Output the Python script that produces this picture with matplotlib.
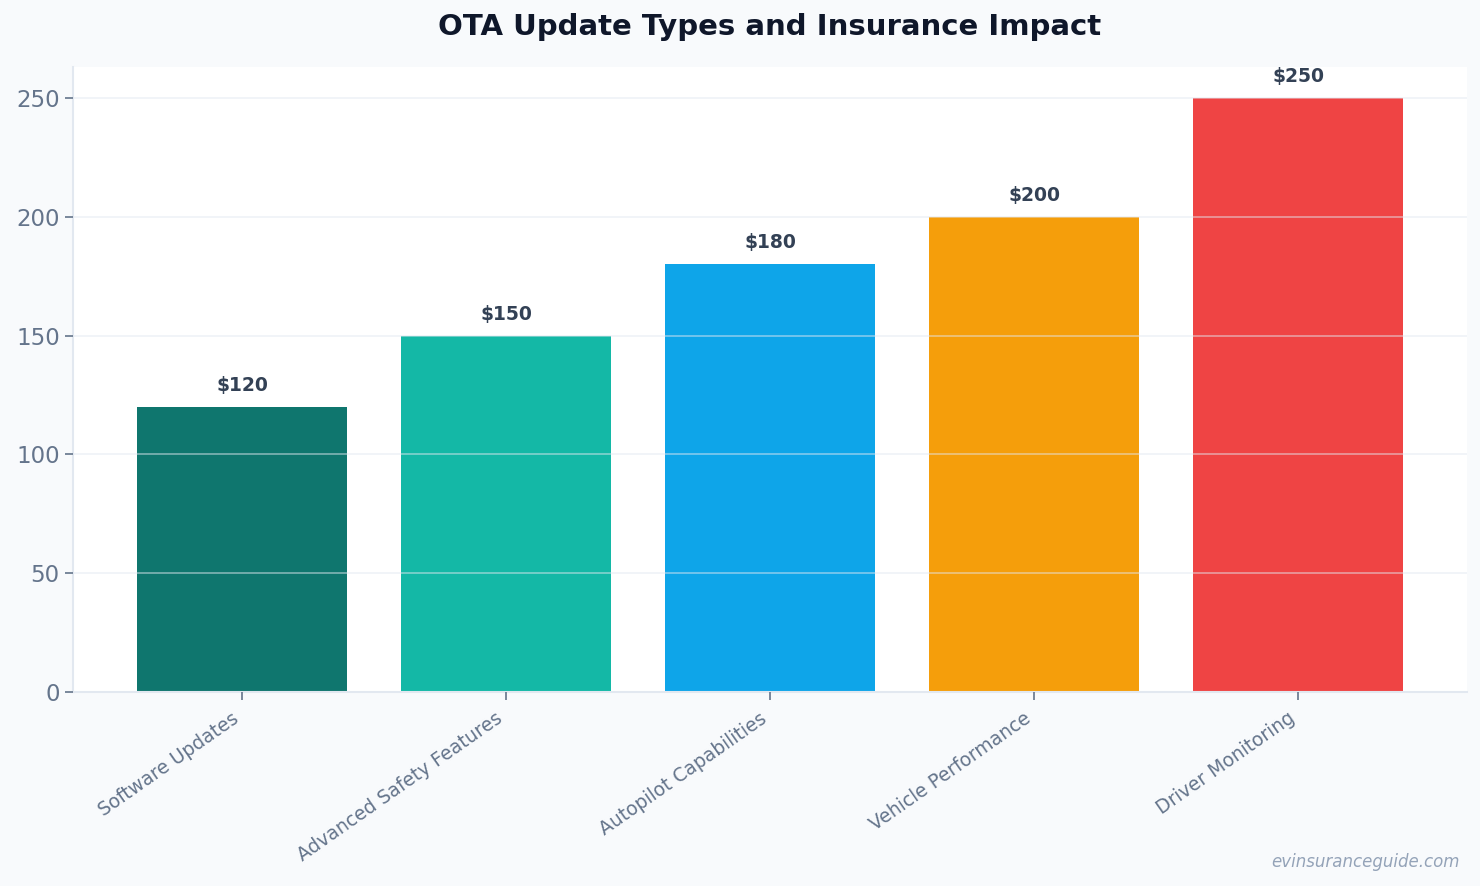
import matplotlib
matplotlib.use("Agg")
import matplotlib.pyplot as plt

categories = ["Software Updates", "Advanced Safety Features", "Autopilot Capabilities",
              "Vehicle Performance", "Driver Monitoring"]
values = [120, 150, 180, 200, 250]
bar_labels = ["$120", "$150", "$180", "$200", "$250"]
colors = ["#0f766e", "#14b8a6", "#0ea5e9", "#f59e0b", "#ef4444"]
yticks = [0, 50, 100, 150, 200, 250]

fig = plt.figure(figsize=(14.8, 8.86), dpi=100, facecolor="#f8fafc")
ax = fig.add_axes([0.0493, 0.219, 0.942, 0.7054])
ax.set_facecolor("white")

x = list(range(len(categories)))
bars = ax.bar(x, values, width=0.795, color=colors, zorder=2)
ax.set_xlim(-0.64, len(categories) - 1 + 0.64)
ax.set_ylim(0, 263)
ax.set_yticks(yticks)
ax.set_xticks(x)
ax.set_xticklabels(categories, rotation=35, ha="right",
                   fontsize=13.5, color="#64748b")
ax.tick_params(axis="y", labelsize=16.5, labelcolor="#64748b", color="#64748b", length=6, width=1.2)
ax.tick_params(axis="x", color="#64748b", length=6, width=1.2, pad=6)

ax.grid(axis="y", color="#e2e8f0", alpha=0.55, linewidth=1.2, zorder=3)
ax.set_axisbelow(False)
for s in ["top", "right"]:
    ax.spines[s].set_visible(False)
for s in ["left", "bottom"]:
    ax.spines[s].set_color("#e2e8f0")
    ax.spines[s].set_linewidth(1.5)

for b, lab in zip(bars, bar_labels):
    ax.annotate(lab, (b.get_x() + b.get_width() / 2, b.get_height()),
                xytext=(0, 8.5), textcoords="offset points", ha="center", va="bottom",
                fontsize=13.5, fontweight="bold", color="#334155")

fig.text(0.52, 0.969, "OTA Update Types and Insurance Impact", ha="center", va="center",
         fontsize=21, fontweight="bold", color="#0f172a")
fig.text(0.986, 0.027, "evinsuranceguide.com", ha="right", va="center",
         fontsize=12, style="italic", color="#94a3b8")

fig.savefig("out.png", dpi=100, facecolor=fig.get_facecolor())
